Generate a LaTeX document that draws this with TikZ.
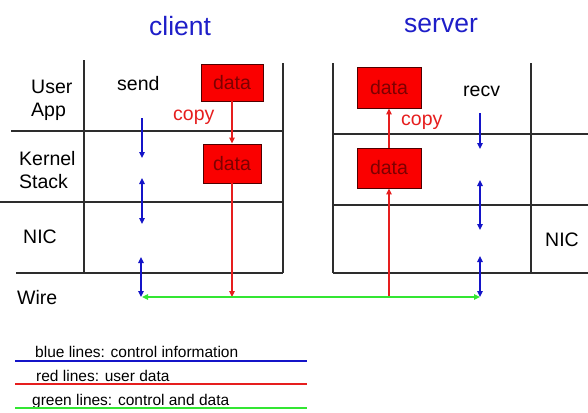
\documentclass[tikz,border=0pt]{standalone}
\usepackage{fontspec}
\setmainfont{Liberation Sans}
\usetikzlibrary{arrows.meta}
\definecolor{tblue}{RGB}{30,30,200}
\definecolor{cblue}{RGB}{20,20,200}
\definecolor{dred}{RGB}{230,30,30}
\definecolor{boxred}{RGB}{250,0,0}
\definecolor{boxedge}{RGB}{80,0,0}
\definecolor{boxtext}{RGB}{125,0,0}
\definecolor{dgreen}{RGB}{50,230,50}
\definecolor{rulec}{RGB}{45,45,45}
\begin{document}
\begin{tikzpicture}[x=1pt,y=-1pt,
  gridline/.style={draw=rulec,line width=1.1pt},
  lbl/.style={anchor=base west,inner sep=0,font=\fontsize{19.5}{23}\selectfont},
  ttl/.style={anchor=base west,inner sep=0,text=tblue,font=\fontsize{26.5}{30}\selectfont},
  cpy/.style={anchor=base west,inner sep=0,text=dred,font=\fontsize{19.5}{23}\selectfont},
  datab/.style={draw=boxedge,fill=boxred,line width=0.9pt,inner sep=0,text=boxtext,font=\fontsize{19.5}{23}\selectfont},
  tip/.tip={Triangle[length=6pt,width=5.5pt]},
  ctl/.style={draw=cblue,line width=1.3pt,-tip},
  ctlb/.style={draw=cblue,line width=1.3pt,tip-tip},
  usr/.style={draw=dred,line width=1.1pt,-tip},
  both/.style={draw=dgreen,line width=1.5pt,tip-tip},
  leg/.style={anchor=base west,inner sep=0,font=\fontsize{15.5}{18}\selectfont},
  legline/.style={line width=1.3pt}]
\useasboundingbox (0,0) rectangle (588,412);

% titles
\node[ttl] (tclient) at (149,36) {client};
\node[ttl] (tserver) at (404,33) {server};

% client grid
\draw[gridline] (84,60) -- (84,273);
\draw[gridline] (283,63) -- (283,273);
\draw[gridline] (11,131) -- (283,131);
\draw[gridline] (0,202) -- (283,202);
\draw[gridline] (16,273) -- (283,273);

% server grid
\draw[gridline] (333,63) -- (333,273);
\draw[gridline] (531,63) -- (531,274);
\draw[gridline] (333,134) -- (588,134);
\draw[gridline] (333,205) -- (588,205);
\draw[gridline] (333,273) -- (588,273);

% layer labels
\node[lbl] (luser) at (31,93) {User};
\node[lbl] (lapp) at (31,116) {App};
\node[lbl] (lkernel) at (19,165) {Kernel};
\node[lbl] (lstack) at (19,188) {Stack};
\node[lbl] (lnic) at (23,243) {NIC};
\node[lbl] (lwire) at (17,304) {Wire};
\node[lbl] (lsend) at (117,90) {send};
\node[lbl] (lrecv) at (463,96) {recv};
\node[lbl] (lnic2) at (545,246) {NIC};

% data boxes
\node[datab,minimum width=62pt,minimum height=37pt] (c1) at (232,82.5) {data};
\node[datab,minimum width=58pt,minimum height=39pt] (c2) at (232,163.5) {data};
\node[datab,minimum width=64pt,minimum height=41pt] (s1) at (389,87.5) {data};
\node[datab,minimum width=64pt,minimum height=40pt] (s2) at (389,168) {data};

\node[cpy] (ccopy) at (173,120) {copy};
\node[cpy] (scopy) at (401,125) {copy};

% wire points
\coordinate (cw) at (142,297);
\coordinate (sw) at (480,297);
\coordinate (cwr) at (232,297);
\coordinate (swr) at (389,297);

% red user data
\draw[usr] (c1.south) -- (c2.north);
\draw[usr] (c2.south) -- (cwr);
\draw[usr] (swr) -- (s2.south);
\draw[usr] (s2.north) -- (s1.south);

% blue control client
\coordinate (ca1) at (142,118); \coordinate (ca2) at (142,158);
\coordinate (cb1) at (142,178); \coordinate (cb2) at (142,224);
\coordinate (cc1) at (141,257);
\draw[ctl] (ca1) -- (ca2);
\draw[ctlb] (cb1) -- (cb2);
\draw[ctlb] (cc1) -- (cc1 |- cw);

% blue control server
\coordinate (sa1) at (480,113); \coordinate (sa2) at (480,149);
\coordinate (sb1) at (480,180); \coordinate (sb2) at (480,230);
\coordinate (sc1) at (480,256);
\draw[ctl] (sa1) -- (sa2);
\draw[ctlb] (sb1) -- (sb2);
\draw[ctlb] (sc1) -- (sw);

% green wire
\draw[both] (cw) -- (sw);

% legend
\coordinate (la) at (15,361); \coordinate (lb) at (307,361);
\coordinate (lc) at (15,384); \coordinate (ld) at (307,384);
\coordinate (le) at (15,408); \coordinate (lf) at (307,408);
\node[leg] (legb) at (35,357) {blue lines: control information};
\node[leg] (legr) at (36,381) {red lines: user data};
\node[leg] (legg) at (32,405) {green lines: control and data};
\draw[legline,draw=cblue] (la) -- (lb);
\draw[legline,draw=dred] (lc) -- (ld);
\draw[legline,draw=dgreen] (le) -- (lf);
\end{tikzpicture}
\end{document}
